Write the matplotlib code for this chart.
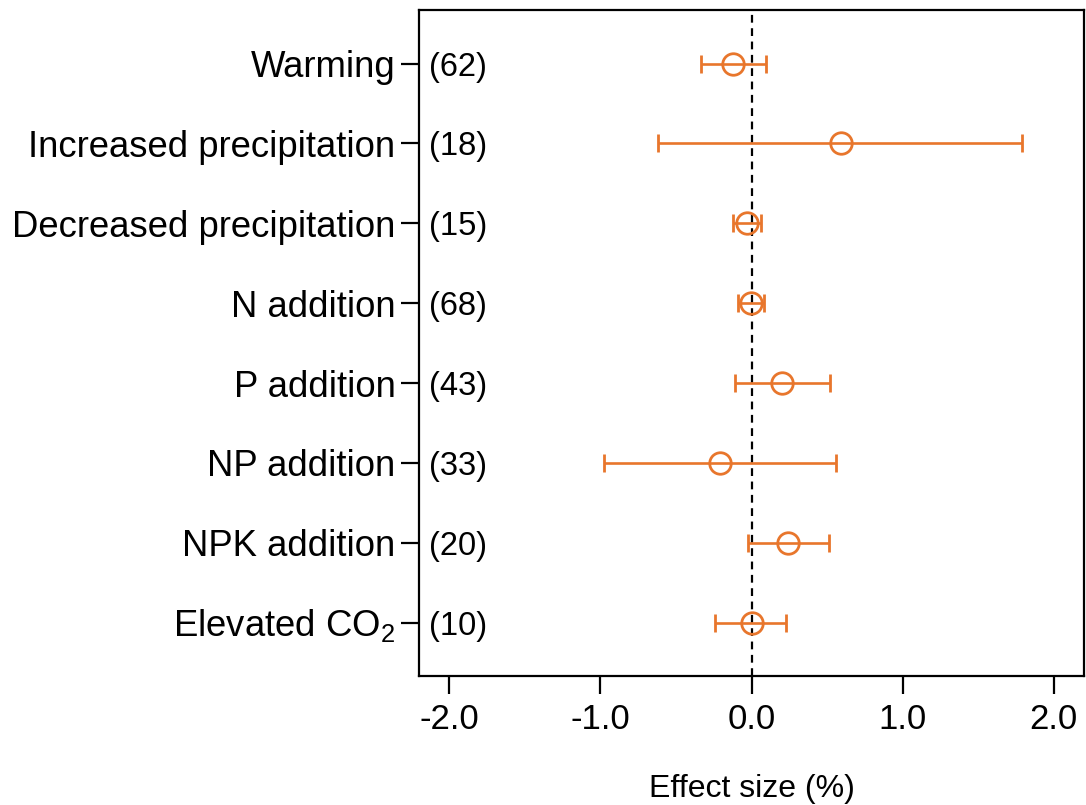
"""Forest plot of treatment effect sizes."""

import matplotlib

matplotlib.use("Agg")
import matplotlib.pyplot as plt

# data (top to bottom)
treatments = [
    "Warming",
    "Increased precipitation",
    "Decreased precipitation",
    "N addition",
    "P addition",
    "NP addition",
    "NPK addition",
    "Elevated CO$_2$",
]
n_obs = [62, 18, 15, 68, 43, 33, 20, 10]
effect = [-0.12, 0.59, -0.03, -0.005, 0.205, -0.21, 0.24, 0.0]
ci_low = [-0.335, -0.62, -0.12, -0.09, -0.11, -0.975, -0.02, -0.24]
ci_high = [0.095, 1.79, 0.06, 0.08, 0.52, 0.56, 0.51, 0.23]

ORANGE = "#E8762C"

plt.rcParams["font.family"] = ["Liberation Sans", "DejaVu Sans"]
plt.rcParams["mathtext.fontset"] = "custom"
plt.rcParams["mathtext.rm"] = "Liberation Sans"

fig = plt.figure(figsize=(10.86, 8.05), dpi=100)
ax = fig.add_axes([0.386, 0.160, 0.612, 0.8276])

ys = list(range(1, len(treatments) + 1))
xerr = [
    [e - lo for e, lo in zip(effect, ci_low)],
    [hi - e for e, hi in zip(effect, ci_high)],
]
ax.axvline(0, color="black", lw=1.6, ls=(0, (3.5, 2.5)), zorder=1)
ax.errorbar(
    effect,
    ys,
    xerr=xerr,
    fmt="o",
    color=ORANGE,
    mfc="none",
    mec=ORANGE,
    mew=2.0,
    ms=15.5,
    elinewidth=1.9,
    capsize=6.8,
    capthick=1.9,
    zorder=3,
)

for y, n in zip(ys, n_obs):
    ax.text(0.015, y, f"({n})", transform=ax.get_yaxis_transform(),
            ha="left", va="center_baseline", fontsize=23.5)

ax.set_xlim(-2.2, 2.2)
ax.set_ylim(8.67, 0.33)
ax.set_yticks(ys)
ax.set_yticklabels(treatments, fontsize=26.3)
ax.set_xticks([-2, -1, 0, 1, 2])
ax.set_xticklabels(["-2.0", "-1.0", "0.0", "1.0", "2.0"], fontsize=25)
ax.tick_params(axis="both", length=13, width=1.6, direction="out", pad=4)
ax.tick_params(axis="x", pad=6)
ax.set_xlabel("Effect size (%)", fontsize=23, labelpad=28)
for s in ax.spines.values():
    s.set_linewidth(1.6)

fig.savefig("out.png", dpi=100, facecolor="white")
